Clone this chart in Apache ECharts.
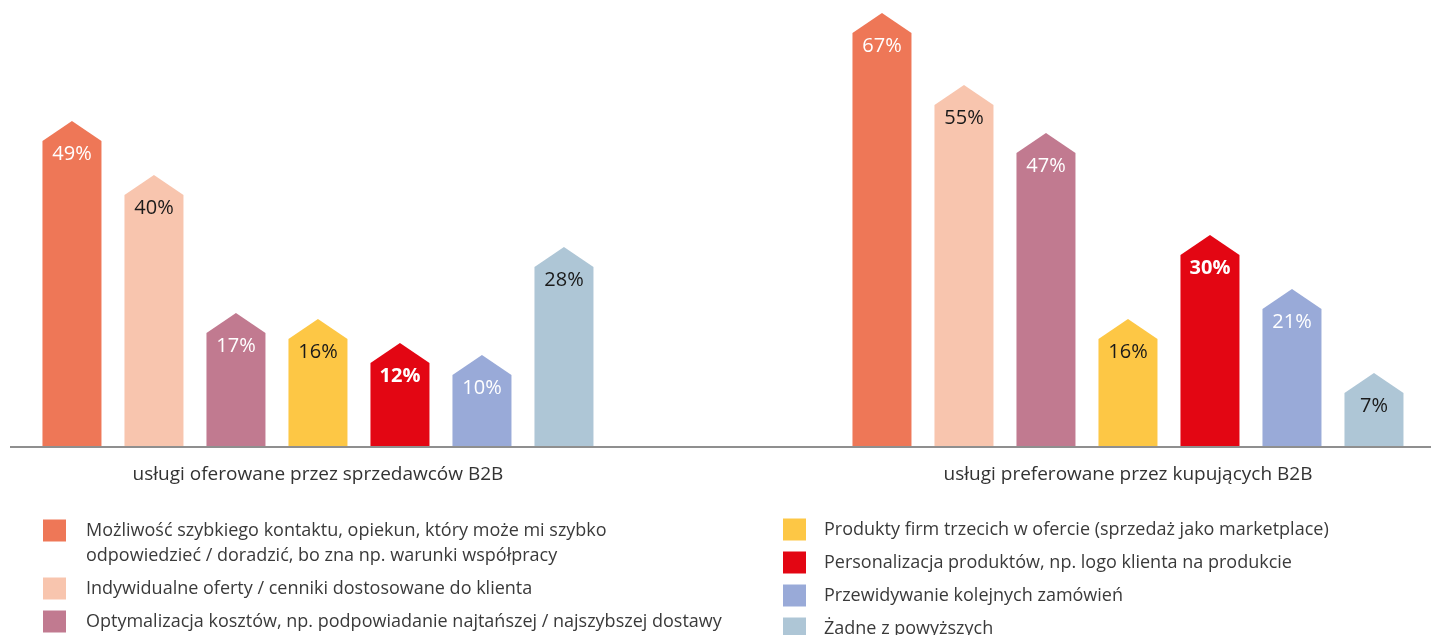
<!DOCTYPE html>
<html lang="pl">
<head>
<meta charset="utf-8">
<title>Usługi B2B</title>
<script src="https://cdn.jsdelivr.net/npm/echarts@6/dist/echarts.min.js"></script>
<style>
  html, body { margin: 0; padding: 0; background: #ffffff; }
  #chart { width: 1431px; height: 635px; }
</style>
</head>
<body>
<div id="chart"></div>
<script>
// Two groups of respondents
const categories = ['usługi oferowane przez sprzedawców B2B', 'usługi preferowane przez kupujących B2B'];

// Service names (one series each)
const serviceNames = [
  'Możliwość szybkiego kontaktu, opiekun, który może mi szybko odpowiedzieć / doradzić, bo zna np. warunki współpracy',
  'Indywidualne oferty / cenniki dostosowane do klienta',
  'Optymalizacja kosztów, np. podpowiadanie najtańszej / najszybszej dostawy',
  'Produkty firm trzecich w ofercie (sprzedaż jako marketplace)',
  'Personalizacja produktów, np. logo klienta na produkcie',
  'Przewidywanie kolejnych zamówień',
  'Żadne z powyższych'
];

// Share of answers (%) for [sellers, buyers]
const quickContact   = [49, 67];
const customOffers   = [40, 55];
const costOptimizing = [17, 47];
const thirdParty     = [16, 16];
const personalizing  = [12, 30];
const predicting     = [10, 21];
const noneOfThese    = [28, 7];

const seriesValues = [quickContact, customOffers, costOptimizing, thirdParty, personalizing, predicting, noneOfThese];

const colors = ['#EE7757', '#F8C5AE', '#C17A90', '#FDC745', '#E30613', '#99AAD8', '#AEC6D6'];
const labelColors = ['#ffffff', '#1a1a1a', '#ffffff', '#1a1a1a', '#ffffff', '#ffffff', '#1a1a1a'];
const labelWeights = ['normal', 'normal', 'normal', 'normal', 'bold', 'normal', 'normal'];

const FONT = '"Open Sans", "Noto Sans", sans-serif';
const Y_MIN = -2;
const BAR_W = 59;
const BAR_STEP = 82;
const CAP_H = 20;

const chart = echarts.init(document.getElementById('chart'), null, { renderer: 'canvas' });

function makeSeries(idx) {
  return {
    name: serviceNames[idx],
    type: 'custom',
    color: colors[idx],
    data: seriesValues[idx].map((v, c) => [c, v]),
    encode: { x: 0, y: 1 },
    renderItem: function (params, api) {
      const c = api.value(0);
      const v = api.value(1);
      const top = api.coord([c, v]);
      const base = api.coord([c, Y_MIN]);
      const cx = top[0] + (idx - 3) * BAR_STEP;
      const l = cx - BAR_W / 2, r = cx + BAR_W / 2;
      return {
        type: 'group',
        children: [
          {
            type: 'polygon',
            shape: {
              points: [[l, base[1]], [l, top[1]], [cx, top[1] - CAP_H], [r, top[1]], [r, base[1]]]
            },
            style: { fill: colors[idx] }
          },
          {
            type: 'text',
            x: cx,
            y: top[1] + 13,
            style: {
              text: v + '%',
              align: 'center',
              verticalAlign: 'middle',
              fill: labelColors[idx],
              fontFamily: FONT,
              fontSize: 20,
              fontWeight: labelWeights[idx]
            }
          }
        ]
      };
    }
  };
}

const legendText = { fontFamily: FONT, fontSize: 18, color: '#3a3a3a', lineHeight: 25 };

const option = {
  animation: false,
  backgroundColor: '#ffffff',
  grid: { left: 10, right: 0, top: 3, bottom: 188, containLabel: false },
  xAxis: {
    // group index on a numeric scale so the groups sit at their own positions
    type: 'value',
    min: -0.3802,
    max: 1.3741,
    axisLine: { show: false },
    axisTick: { show: false },
    splitLine: { show: false },
    axisLabel: {
      customValues: [0, 1],
      formatter: function (v) { return categories[Math.round(v)]; },
      margin: 18,
      fontFamily: FONT,
      fontSize: 19,
      color: '#333333'
    }
  },
  yAxis: {
    type: 'value',
    min: Y_MIN,
    max: 72,
    show: false,
    splitLine: { show: false }
  },
  legend: [
    {
      orient: 'vertical',
      left: 43,
      top: 493,
      height: 400,
      padding: 0,
      itemGap: 8,
      icon: 'rect',
      itemWidth: 23,
      itemHeight: 22,
      selectedMode: false,
      textStyle: Object.assign({ padding: [0, 0, 0, 15] }, legendText),
      formatter: function (name) {
        // first entry wraps onto two lines; the leading blank line keeps its square beside the first line
        return name === serviceNames[0]
          ? '\nMożliwość szybkiego kontaktu, opiekun, który może mi szybko\nodpowiedzieć / doradzić, bo zna np. warunki współpracy'
          : name;
      },
      data: serviceNames.slice(0, 3)
    },
    {
      orient: 'vertical',
      left: 783,
      top: 517,
      height: 400,
      padding: 0,
      itemGap: 8,
      icon: 'rect',
      itemWidth: 23,
      itemHeight: 22,
      selectedMode: false,
      textStyle: Object.assign({ padding: [0, 0, 0, 13] }, legendText),
      data: serviceNames.slice(3)
    }
  ],
  series: seriesValues.map((_, i) => makeSeries(i))
};

chart.setOption(option);

// Baseline drawn across the chart at the axis minimum
const baseY = chart.convertToPixel({ yAxisIndex: 0 }, Y_MIN);
chart.setOption({
  graphic: [{
    type: 'line',
    shape: { x1: 10, y1: baseY, x2: 1431, y2: baseY },
    style: { stroke: '#8f8f8f', lineWidth: 2 },
    z: 10
  }]
});
</script>
</body>
</html>
